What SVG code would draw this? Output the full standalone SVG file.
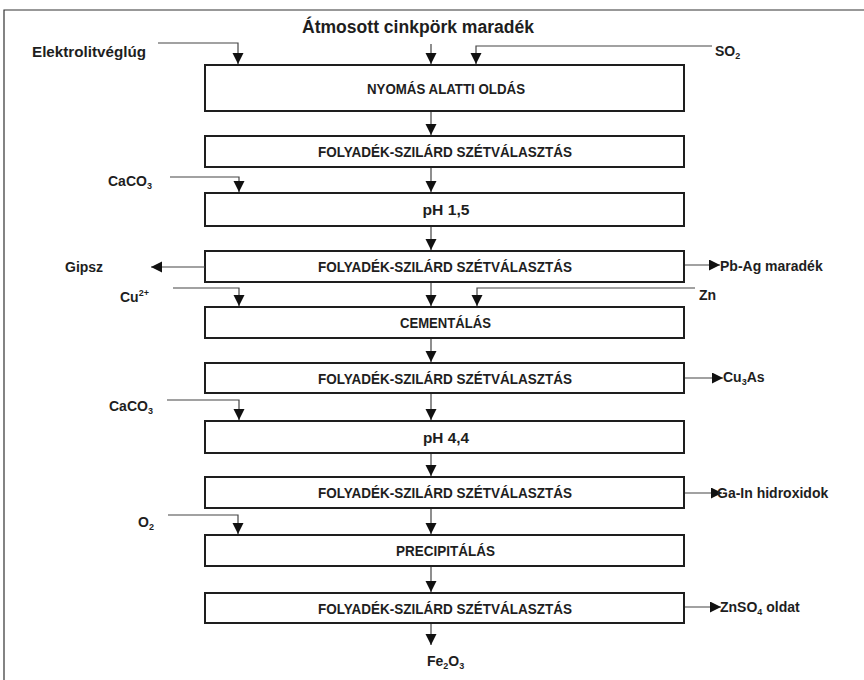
<svg xmlns="http://www.w3.org/2000/svg" width="864" height="680" viewBox="0 0 864 680">
<style>
.box{fill:#fff;stroke:#1e1e1e;stroke-width:2}
.bt{font-family:"Liberation Sans",Arial,sans-serif;font-weight:bold;font-size:15px;fill:#1e1e1e;text-anchor:middle}
.lb{font-family:"Liberation Sans",Arial,sans-serif;font-weight:bold;font-size:14px;fill:#1e1e1e}
.sub{font-size:9px}
.ln{fill:none;stroke:#444;stroke-width:1.2}
.frame{fill:none;stroke:#333;stroke-width:1.2}
</style>
<defs>
<marker id="ah" markerUnits="userSpaceOnUse" markerWidth="12" markerHeight="12" refX="11" refY="5.5" orient="auto">
<path d="M0,0 L11,5.5 L0,11 z" fill="#111"/>
</marker>
</defs>
<rect width="864" height="680" fill="#fff"/>
<path class="frame" d="M4,680 V10 H864"/>

<text class="lb" x="302" y="33" style="font-size:18px" textLength="232" lengthAdjust="spacingAndGlyphs">Átmosott cinkpörk maradék</text>

<g id="n1"><rect class="box" x="205" y="65" width="479" height="46"/><text class="bt" x="446" y="94" textLength="158" lengthAdjust="spacingAndGlyphs">NYOMÁS ALATTI OLDÁS</text></g>
<g id="n2"><rect class="box" x="205" y="136" width="479" height="31"/><text class="bt" x="445" y="157" textLength="254" lengthAdjust="spacingAndGlyphs">FOLYADÉK-SZILÁRD SZÉTVÁLASZTÁS</text></g>
<g id="n3"><rect class="box" x="205" y="193" width="479" height="33"/><text class="bt" x="446" y="215" textLength="47" lengthAdjust="spacingAndGlyphs">pH 1,5</text></g>
<g id="n4"><rect class="box" x="205" y="251" width="479" height="31"/><text class="bt" x="445" y="272" textLength="254" lengthAdjust="spacingAndGlyphs">FOLYADÉK-SZILÁRD SZÉTVÁLASZTÁS</text></g>
<g id="n5"><rect class="box" x="205" y="307" width="479" height="31"/><text class="bt" x="445.5" y="328" textLength="91" lengthAdjust="spacingAndGlyphs">CEMENTÁLÁS</text></g>
<g id="n6"><rect class="box" x="205" y="363" width="479" height="30"/><text class="bt" x="445" y="383.5" textLength="254" lengthAdjust="spacingAndGlyphs">FOLYADÉK-SZILÁRD SZÉTVÁLASZTÁS</text></g>
<g id="n7"><rect class="box" x="205" y="421" width="479" height="32"/><text class="bt" x="446" y="442.5" textLength="46" lengthAdjust="spacingAndGlyphs">pH 4,4</text></g>
<g id="n8"><rect class="box" x="205" y="477" width="479" height="31"/><text class="bt" x="445" y="498" textLength="254" lengthAdjust="spacingAndGlyphs">FOLYADÉK-SZILÁRD SZÉTVÁLASZTÁS</text></g>
<g id="n9"><rect class="box" x="205" y="535" width="479" height="31"/><text class="bt" x="445.5" y="556" textLength="99" lengthAdjust="spacingAndGlyphs">PRECIPITÁLÁS</text></g>
<g id="n10"><rect class="box" x="205" y="593" width="479" height="30"/><text class="bt" x="445" y="613.5" textLength="254" lengthAdjust="spacingAndGlyphs">FOLYADÉK-SZILÁRD SZÉTVÁLASZTÁS</text></g>

<g id="connectors">
<path class="ln" d="M431,44 V64" marker-end="url(#ah)"/>
<path class="ln" d="M431,112 V135" marker-end="url(#ah)"/>
<path class="ln" d="M431,168 V192" marker-end="url(#ah)"/>
<path class="ln" d="M431,227 V250" marker-end="url(#ah)"/>
<path class="ln" d="M431,283 V306" marker-end="url(#ah)"/>
<path class="ln" d="M431,339 V362" marker-end="url(#ah)"/>
<path class="ln" d="M431,394 V420" marker-end="url(#ah)"/>
<path class="ln" d="M431,454 V476" marker-end="url(#ah)"/>
<path class="ln" d="M431,509 V534" marker-end="url(#ah)"/>
<path class="ln" d="M431,567 V592" marker-end="url(#ah)"/>
<path class="ln" d="M431,624 V645" marker-end="url(#ah)"/>
<path class="ln" d="M158,43 H238 V64" marker-end="url(#ah)"/>
<path class="ln" d="M170,177 H239 V192" marker-end="url(#ah)"/>
<path class="ln" d="M173,288 H239 V306" marker-end="url(#ah)"/>
<path class="ln" d="M167,400 H239 V420" marker-end="url(#ah)"/>
<path class="ln" d="M168,515 H238 V534" marker-end="url(#ah)"/>
<path class="ln" d="M712,46 H476 V64" marker-end="url(#ah)"/>
<path class="ln" d="M695,288 H477 V306" marker-end="url(#ah)"/>
<path class="ln" d="M205,267 H151" marker-end="url(#ah)"/>
<path class="ln" d="M685,265 H720" marker-end="url(#ah)"/>
<path class="ln" d="M685,378 H723" marker-end="url(#ah)"/>
<path class="ln" d="M685,493 H722" marker-end="url(#ah)"/>
<path class="ln" d="M685,607 H721" marker-end="url(#ah)"/>
</g>

<g id="labels">
<text class="lb" x="32" y="57" textLength="114" lengthAdjust="spacingAndGlyphs">Elektrolitvéglúg</text>
<text class="lb" x="715" y="56">SO<tspan class="sub" dy="3">2</tspan></text>
<text class="lb" x="108" y="186">CaCO<tspan class="sub" dy="3">3</tspan></text>
<text class="lb" x="65" y="272">Gipsz</text>
<text class="lb" x="720" y="271">Pb-Ag maradék</text>
<text class="lb" x="120" y="302">Cu<tspan class="sub" dy="-6">2+</tspan></text>
<text class="lb" x="699" y="300">Zn</text>
<text class="lb" x="723" y="382">Cu<tspan class="sub" dy="3">3</tspan><tspan dy="-3">As</tspan></text>
<text class="lb" x="109" y="411">CaCO<tspan class="sub" dy="3">3</tspan></text>
<text class="lb" x="717" y="498">Ga-In hidroxidok</text>
<text class="lb" x="138" y="527">O<tspan class="sub" dy="3">2</tspan></text>
<text class="lb" x="720" y="612">ZnSO<tspan class="sub" dy="3">4</tspan><tspan dy="-3"> oldat</tspan></text>
<text class="lb" x="427" y="666">Fe<tspan class="sub" dy="3">2</tspan><tspan dy="-3">O</tspan><tspan class="sub" dy="3">3</tspan></text>
</g>
</svg>
